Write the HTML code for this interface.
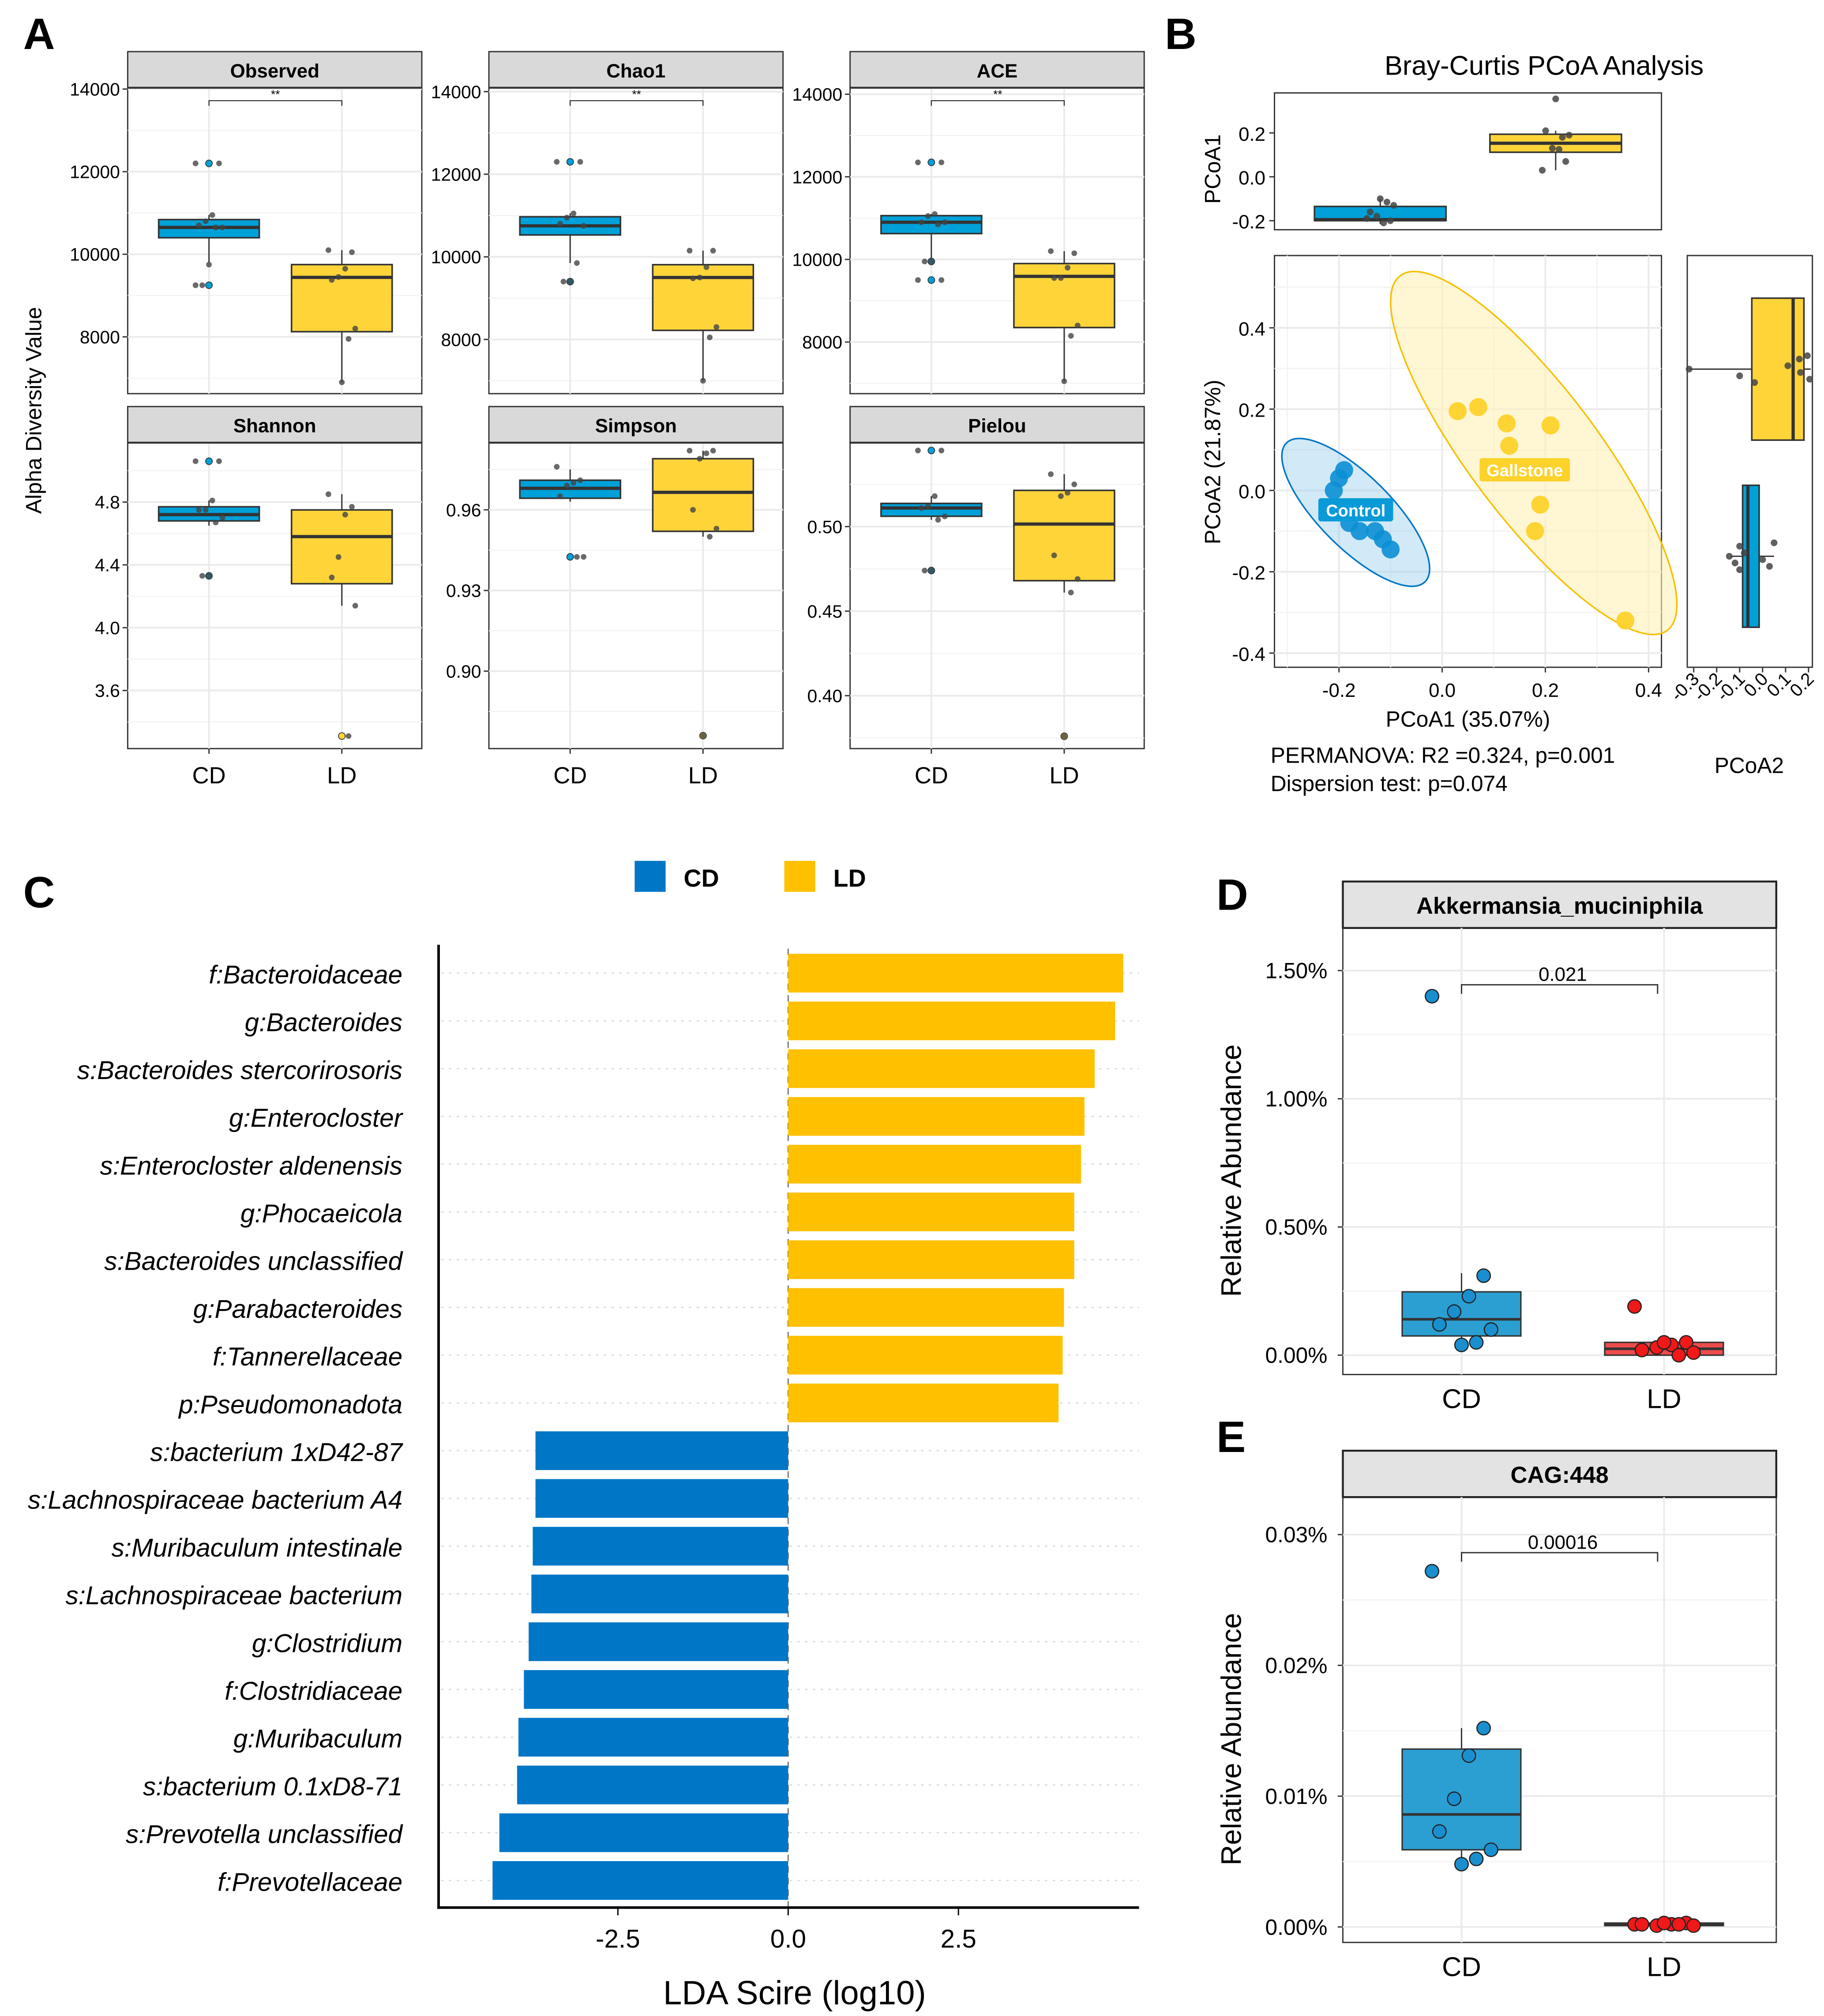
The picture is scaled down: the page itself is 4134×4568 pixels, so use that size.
<!DOCTYPE html>
<html><head><meta charset="utf-8">
<style>
html,body{margin:0;padding:0;background:#fff;overflow:hidden;width:4134px;height:4568px;}
svg{display:block;font-family:"Liberation Sans",sans-serif;}
</style></head>
<body>
<svg id="fig" xmlns="http://www.w3.org/2000/svg" width="4134" height="4568" viewBox="0 0 1414 1562" preserveAspectRatio="none" overflow="hidden">
<rect width="1414" height="1562" fill="#fff"/>
<text x="18" y="38" font-size="34" font-weight="bold">A</text>
<text x="903" y="38" font-size="34" font-weight="bold">B</text>
<text x="18" y="703" font-size="34" font-weight="bold">C</text>
<text x="943" y="705" font-size="34" font-weight="bold">D</text>
<text x="943" y="1125" font-size="34" font-weight="bold">E</text>
<text transform="translate(32,318) rotate(-90)" text-anchor="middle" font-size="17">Alpha Diversity Value</text>
<g id="gA"></g>
<g id="gB"></g>
<g id="gC"></g>
<g id="gD"></g>
<g id="gE"></g>
</svg>
<script>
// ---------- Panel A data ----------
const alphaMetrics = ["Observed","Chao1","ACE","Shannon","Simpson","Pielou"];
const alphaTicks = [[8000,10000,12000,14000],[8000,10000,12000,14000],[8000,10000,12000,14000],[3.6,4.0,4.4,4.8],[0.90,0.93,0.96],[0.40,0.45,0.50]];
const alphaTickLabels = [["8000","10000","12000","14000"],["8000","10000","12000","14000"],["8000","10000","12000","14000"],["3.6","4.0","4.4","4.8"],["0.90","0.93","0.96"],["0.40","0.45","0.50"]];
const alphaBoxCD = [[9800,10400,10650,10840,10950],[9850,10530,10750,10970,11050],[9950,10625,10900,11060,11100],[4.65,4.68,4.72,4.77,4.81],[0.963,0.9643,0.968,0.971,0.975],[0.504,0.5061,0.511,0.5137,0.518]];
const alphaBoxLD = [[6900,8125,9440,9750,10100],[7000,8220,9500,9810,10150],[7050,8350,9590,9900,10200],[4.14,4.28,4.58,4.75,4.85],[0.950,0.952,0.9665,0.979,0.982],[0.461,0.468,0.5015,0.5214,0.531]];
const alphaPtsCD = [[12200,12200,10950,10800,10700,10650,10650,9750,9250,9250],[12300,12300,11050,10950,10800,10750,9850,9400,9400],[12350,12350,11100,11050,10900,10900,10850,9950,9950,9500,9500],[5.06,5.06,4.81,4.75,4.75,4.70,4.67,4.33,4.33],[0.976,0.971,0.970,0.969,0.965,0.9425,0.9425],[0.545,0.545,0.518,0.512,0.511,0.506,0.504,0.474,0.474]];
const alphaPtsLD = [[10100,10050,9650,9450,9380,8200,7950,6900],[10150,10150,9750,9500,9480,8300,8050,7000],[10200,10150,9800,9550,9550,8400,8150,7050],[4.85,4.77,4.72,4.45,4.32,4.14,3.31],[0.982,0.982,0.981,0.979,0.960,0.953,0.950,0.876],[0.531,0.525,0.520,0.518,0.483,0.469,0.461,0.376]];
const alphaOutCD = [[12200,9250],[12300,9400],[12350,9950,9500],[5.06,4.33],[0.9425],[0.545,0.474]];
const alphaOutLD = [[],[],[],[3.31],[0.876],[0.376]];
const alphaSig = ["**","**","**","","",""];
// ---------- Panel B data ----------
const pcoaCtrlX = [-0.19,-0.20,-0.21,-0.18,-0.16,-0.13,-0.115,-0.10];
const pcoaCtrlY = [0.05,0.03,0.0,-0.08,-0.10,-0.10,-0.12,-0.145];
const pcoaGallX = [0.03,0.07,0.125,0.13,0.21,0.19,0.18,0.355];
const pcoaGallY = [0.195,0.205,0.165,0.11,0.16,-0.035,-0.10,-0.32];
const pcoa1BoxCD = [-0.215,-0.20,-0.195,-0.135,-0.10];
const pcoa1BoxLD = [0.03,0.112,0.153,0.194,0.21];
const pcoa2BoxCD = [-0.14,-0.087,-0.064,-0.015,0.05];
const pcoa2BoxLD = [-0.32,-0.047,0.133,0.18,0.21];
const pcoaXTicks = [-0.2,0.0,0.2,0.4];
const pcoaXTickLabels = ["-0.2","0.0","0.2","0.4"];
const pcoaYTicks = [-0.4,-0.2,0.0,0.2,0.4];
const pcoaYTickLabels = ["-0.4","-0.2","0.0","0.2","0.4"];
const pcoa1Ticks = [-0.2,0.0,0.2];
const pcoa1TickLabels = ["-0.2","0.0","0.2"];
const pcoa2Ticks = [-0.3,-0.2,-0.1,0.0,0.1,0.2];
const pcoa2TickLabels = ["-0.3","-0.2","-0.1","0.0","0.1","0.2"];
// ---------- Panel C data ----------
const ldaTaxa = ["f:Bacteroidaceae","g:Bacteroides","s:Bacteroides stercorirosoris","g:Enterocloster","s:Enterocloster aldenensis","g:Phocaeicola","s:Bacteroides unclassified","g:Parabacteroides","f:Tannerellaceae","p:Pseudomonadota","s:bacterium 1xD42-87","s:Lachnospiraceae bacterium A4","s:Muribaculum intestinale","s:Lachnospiraceae bacterium","g:Clostridium","f:Clostridiaceae","g:Muribaculum","s:bacterium 0.1xD8-71","s:Prevotella unclassified","f:Prevotellaceae"];
const ldaScores = [4.92,4.80,4.50,4.35,4.30,4.20,4.20,4.05,4.03,3.97,-3.71,-3.71,-3.75,-3.77,-3.81,-3.88,-3.96,-3.98,-4.24,-4.34];
const ldaTicks = [-2.5,0.0,2.5];
const ldaTickLabels = ["-2.5","0.0","2.5"];
// ---------- Panel D/E data ----------
const akkBoxCD = [0.04,0.075,0.14,0.247,0.32];
const akkBoxLD = [0.0,0.0,0.025,0.05,0.05];
const akkPtsCD = [1.40,0.31,0.23,0.17,0.12,0.10,0.05,0.04];
const akkPtsLD = [0.19,0.05,0.04,0.03,0.02,0.01,0.0,0.05];
const akkTicks = [0,0.5,1.0,1.5];
const akkTickLabels = ["0.00%","0.50%","1.00%","1.50%"];
const cagBoxCD = [0.0048,0.0059,0.0086,0.0136,0.0152];
const cagBoxLD = [0.0,0.0001,0.0002,0.0003,0.0004];
const cagPtsCD = [0.0272,0.0152,0.0131,0.0098,0.0073,0.0059,0.0052,0.0048];
const cagPtsLD = [0.0002,0.0003,0.0002,0.0001,0.0002,0.0001,0.0002,0.0003];
const cagTicks = [0,0.01,0.02,0.03];
const cagTickLabels = ["0.00%","0.01%","0.02%","0.03%"];

const NS="http://www.w3.org/2000/svg";
function el(tag,attrs,parent,txt){const e=document.createElementNS(NS,tag);for(const k in attrs)e.setAttribute(k,attrs[k]);if(txt!==undefined)e.textContent=txt;parent.appendChild(e);return e;}
function lin(d0,d1,r0,r1){return v=>r0+(v-d0)*(r1-r0)/(d1-d0);}
function jit(i){return ((i*7)%9-4)*2.6;}

// ---------- Panel A ----------
(function(){
  const g=document.getElementById('gA');
  const lefts=[99,379,659], w=228;
  const scales=[[8000,261,14000,69],[8000,263,14000,71],[8000,265,14000,73],[3.6,535,4.8,389],[0.90,520,0.96,395],[0.40,539,0.50,408]];
  alphaMetrics.forEach((m,k)=>{
    const L=lefts[k%3], row=Math.floor(k/3);
    const st=row?315:40, top=st+28, bot=row?580:305;
    const s=scales[k], y=lin(s[0],s[2],s[1],s[3]);
    const cx=[L+63,L+166];
    const strip=el('rect',{x:L,y:st,width:w,height:28,fill:'#d9d9d9',stroke:'#333','stroke-width':1},g);
    
    
    const stt=el('text',{x:L+w/2,y:st+20,'text-anchor':'middle','font-size':15,'font-weight':'bold'},g,m);
    
    
    el('rect',{x:L,y:top,width:w,height:bot-top,fill:'#fff',stroke:'#333','stroke-width':1},g);
    const tk=alphaTicks[k];
    for(let i=0;i<tk.length;i++){
      el('line',{x1:L,x2:L+w,y1:y(tk[i]),y2:y(tk[i]),stroke:'#ebebeb','stroke-width':1.4},g);
      if(i<tk.length-1){const mid=(tk[i]+tk[i+1])/2;el('line',{x1:L,x2:L+w,y1:y(mid),y2:y(mid),stroke:'#f3f3f3','stroke-width':0.8},g);}
    }
    const mlo=tk[0]-(tk[1]-tk[0])/2; if(y(mlo)<bot) el('line',{x1:L,x2:L+w,y1:y(mlo),y2:y(mlo),stroke:'#f3f3f3','stroke-width':0.8},g);
    const mhi=tk[tk.length-1]+(tk[1]-tk[0])/2; if(y(mhi)>top) el('line',{x1:L,x2:L+w,y1:y(mhi),y2:y(mhi),stroke:'#f3f3f3','stroke-width':0.8},g);
    cx.forEach(c=>el('line',{x1:c,x2:c,y1:top,y2:bot,stroke:'#ebebeb','stroke-width':1.4},g));
    el('line',{x1:L,x2:L+w,y1:top,y2:top,stroke:'#333','stroke-width':1.5},g);
    tk.forEach((t,i)=>{
      el('line',{x1:L-4,x2:L,y1:y(t),y2:y(t),stroke:'#333'},g);
      const tt=el('text',{x:L-6,y:y(t)+5,'text-anchor':'end','font-size':14},g,alphaTickLabels[k][i]);
      
      
    });
    if(row===1){['CD','LD'].forEach((c,i)=>{
      el('line',{x1:cx[i],x2:cx[i],y1:bot,y2:bot+4,stroke:'#333'},g);
      const xt=el('text',{x:cx[i],y:bot+27,'text-anchor':'middle','font-size':18},g,c);
      
      
    });}
    [[alphaBoxCD[k],'#00a0d8',alphaPtsCD[k],alphaOutCD[k],'cd'],[alphaBoxLD[k],'#fed439',alphaPtsLD[k],alphaOutLD[k],'ld']].forEach((b,i)=>{
      const bx=b[0],c=cx[i];
      el('line',{x1:c,x2:c,y1:y(bx[0]),y2:y(bx[4]),stroke:'#333'},g);
      const r=el('rect',{x:c-39,y:y(bx[3]),width:78,height:y(bx[1])-y(bx[3]),fill:b[1],stroke:'#333','stroke-width':1.2},g);
      
      
      el('line',{x1:c-39,x2:c+39,y1:y(bx[2]),y2:y(bx[2]),stroke:'#333','stroke-width':2.5},g);
      b[3].forEach(v=>{const o=el('circle',{cx:c,cy:y(v),r:2.6,fill:b[1],stroke:'#333','stroke-width':0.6},g);
        
        });
      b[2].forEach((v,j)=>{const p=el('circle',{cx:c+jit(j),cy:y(v),r:2.2,fill:'#444',opacity:0.8},g);
        
        });
    });
    if(alphaSig[k]){
      el('path',{d:`M${cx[0]},${top+14} V${top+10} H${cx[1]} V${top+14}`,fill:'none',stroke:'#333','stroke-width':0.8},g);
      const sg=el('text',{x:(cx[0]+cx[1])/2,y:top+8,'text-anchor':'middle','font-size':9},g,alphaSig[k]);
      
      
    }
  });
})();

// ---------- Panel B ----------
(function(){
  const g=document.getElementById('gB');
  const X=lin(0,0.4,1118,1278), Y=lin(0,0.4,380,254);
  const Yt=lin(0,0.2,137,103), Xr=lin(-0.3,0.2,1313,1402);
  const t=el('text',{x:1197,y:58,'text-anchor':'middle','font-size':21},g,'Bray-Curtis PCoA Analysis');
  
  
  el('rect',{x:988,y:72,width:300,height:106,fill:'#fff',stroke:'#333'},g);
  pcoa1Ticks.forEach((v,i)=>{el('line',{x1:984,x2:988,y1:Yt(v),y2:Yt(v),stroke:'#333'},g);
    const tt=el('text',{x:981,y:Yt(v)+6,'text-anchor':'end','font-size':15},g,pcoa1TickLabels[i]);
    
    });
  const ty=el('text',{transform:'translate(946,131) rotate(-90)','text-anchor':'middle','font-size':17},g,'PCoA1');
  
  
  [[pcoa1BoxCD,1070,'#00a0d8','cd'],[pcoa1BoxLD,1206,'#fed439','ld']].forEach(b=>{
    const bx=b[0],c=b[1];
    el('line',{x1:c,x2:c,y1:Yt(bx[0]),y2:Yt(bx[4]),stroke:'#333'},g);
    const r=el('rect',{x:c-51,y:Yt(bx[3]),width:102,height:Yt(bx[1])-Yt(bx[3]),fill:b[2],stroke:'#333','stroke-width':1.2},g);
    
    
    el('line',{x1:c-51,x2:c+51,y1:Yt(bx[2]),y2:Yt(bx[2]),stroke:'#333','stroke-width':2.5},g);
  });
  pcoaCtrlX.forEach((v,i)=>{const p=el('circle',{cx:1070+jit(i),cy:Yt(v),r:2.6,fill:'#444',opacity:0.85},g);
    
    });
  pcoaGallX.forEach((v,i)=>{const p=el('circle',{cx:1206+jit(i),cy:Yt(v),r:2.6,fill:'#444',opacity:0.85},g);
    
    });
  el('rect',{x:988,y:198,width:300,height:319,fill:'#fff',stroke:'#333'},g);
  [-0.3,-0.1,0.1,0.3].forEach(v=>el('line',{x1:X(v),x2:X(v),y1:198,y2:517,stroke:'#f3f3f3'},g));
  [-0.3,-0.1,0.1,0.3,0.5].forEach(v=>el('line',{x1:988,x2:1288,y1:Y(v),y2:Y(v),stroke:'#f3f3f3'},g));
  pcoaXTicks.forEach((v,i)=>{el('line',{x1:X(v),x2:X(v),y1:198,y2:517,stroke:'#ebebeb','stroke-width':1.4},g);
    el('line',{x1:X(v),x2:X(v),y1:517,y2:521,stroke:'#333'},g);
    const tt=el('text',{x:X(v),y:540,'text-anchor':'middle','font-size':15},g,pcoaXTickLabels[i]);
    
    });
  pcoaYTicks.forEach((v,i)=>{el('line',{x1:988,x2:1288,y1:Y(v),y2:Y(v),stroke:'#ebebeb','stroke-width':1.4},g);
    el('line',{x1:984,x2:988,y1:Y(v),y2:Y(v),stroke:'#333'},g);
    const tt=el('text',{x:981,y:Y(v)+6,'text-anchor':'end','font-size':15},g,pcoaYTickLabels[i]);
    
    });
  const e1=el('ellipse',{cx:1051,cy:397,rx:76,ry:28,transform:'rotate(45 1051 397)',fill:'#9ccfee',opacity:0.45,stroke:'none'},g);
  
  
  el('ellipse',{cx:1051,cy:397,rx:76,ry:28,transform:'rotate(45 1051 397)',fill:'none',stroke:'#0076c6','stroke-width':1.2},g);
  const e2=el('ellipse',{cx:1189,cy:351,rx:172,ry:50,transform:'rotate(53 1189 351)',fill:'#fff0b8',opacity:0.6,stroke:'none'},g);
  
  
  el('ellipse',{cx:1189,cy:351,rx:172,ry:50,transform:'rotate(53 1189 351)',fill:'none',stroke:'#f5c000','stroke-width':1.2},g);
  pcoaCtrlX.forEach((v,i)=>{const p=el('circle',{cx:X(v),cy:Y(pcoaCtrlY[i]),r:7,fill:'#0a8fd4',opacity:0.9},g);
    
    });
  pcoaGallX.forEach((v,i)=>{const p=el('circle',{cx:X(v),cy:Y(pcoaGallY[i]),r:7,fill:'#fdd22a',opacity:0.95},g);
    
    });
  el('rect',{x:1022,y:386,width:58,height:18,rx:2,fill:'#0a9ad8'},g);
  const lc=el('text',{x:1051,y:400,'text-anchor':'middle','font-size':13,'font-weight':'bold',fill:'#fff'},g,'Control');
  
  
  el('rect',{x:1147,y:355,width:70,height:18,rx:2,fill:'#fdd22a'},g);
  const lg=el('text',{x:1182,y:369,'text-anchor':'middle','font-size':13,'font-weight':'bold',fill:'#fff'},g,'Gallstone');
  
  
  const xt=el('text',{x:1138,y:563,'text-anchor':'middle','font-size':17},g,'PCoA1 (35.07%)');
  
  
  const yt=el('text',{transform:'translate(946,358) rotate(-90)','text-anchor':'middle','font-size':17},g,'PCoA2 (21.87%)');
  
  
  const s1=el('text',{x:985,y:591,'font-size':17},g,'PERMANOVA: R2 =0.324, p=0.001');
  
  
  const s2=el('text',{x:985,y:613,'font-size':17},g,'Dispersion test: p=0.074');
  
  
  el('rect',{x:1308,y:198,width:97,height:319,fill:'#fff',stroke:'#333'},g);
  pcoa2Ticks.forEach((v,i)=>{el('line',{x1:Xr(v),x2:Xr(v),y1:517,y2:521,stroke:'#333'},g);
    const tt=el('text',{transform:`translate(${Xr(v)+5},527) rotate(-45)`,'text-anchor':'end','font-size':14},g,pcoa2TickLabels[i]);
    
    });
  const rt=el('text',{x:1356,y:599,'text-anchor':'middle','font-size':17},g,'PCoA2');
  
  
  [[pcoa2BoxLD,286,'#fed439','ld',pcoaGallY],[pcoa2BoxCD,431,'#00a0d8','cd',pcoaCtrlY]].forEach(b=>{
    const bx=b[0],c=b[1];
    el('line',{x1:Xr(bx[0]),x2:Xr(bx[4]),y1:c,y2:c,stroke:'#333'},g);
    const r=el('rect',{x:Xr(bx[1]),y:c-55,width:Xr(bx[3])-Xr(bx[1]),height:110,fill:b[2],stroke:'#333','stroke-width':1.2},g);
    
    
    el('line',{x1:Xr(bx[2]),x2:Xr(bx[2]),y1:c-55,y2:c+55,stroke:'#333','stroke-width':2.5},g);
    b[4].forEach((v,i)=>{const p=el('circle',{cx:Xr(v),cy:c+jit(i),r:2.6,fill:'#444',opacity:0.85},g);
      
      });
  });
})();

// ---------- Panel C ----------
(function(){
  const g=document.getElementById('gC');
  const X=lin(0,2.5,611,743);
  const rowY=i=>754+i*37;
  el('rect',{x:492,y:667,width:24,height:24,fill:'#0076c6'},g);
  const l1=el('text',{x:530,y:687,'font-size':19,'font-weight':'bold'},g,'CD');
  
  
  el('rect',{x:608,y:667,width:24,height:24,fill:'#ffc000'},g);
  const l2=el('text',{x:646,y:687,'font-size':19,'font-weight':'bold'},g,'LD');
  
  
  ldaTaxa.forEach((t,i)=>{
    el('line',{x1:342,x2:883,y1:rowY(i),y2:rowY(i),stroke:'#dcdcdc','stroke-dasharray':'2,4'},g);
  });
  el('line',{x1:611,x2:611,y1:735,y2:1478,stroke:'#777','stroke-dasharray':'5,4'},g);
  ldaScores.forEach((v,i)=>{
    const x0=X(Math.min(0,v)), x1=X(Math.max(0,v));
    const r=el('rect',{x:x0,y:rowY(i)-15,width:x1-x0,height:30,fill:v>0?'#ffc000':'#0076c6'},g);
    
    
    const lt=el('text',{x:312,y:rowY(i)+8,'text-anchor':'end','font-size':20,'font-style':'italic'},g,ldaTaxa[i]);
    
    
  });
  el('line',{x1:340,x2:340,y1:732,y2:1479,stroke:'#000','stroke-width':2},g);
  el('line',{x1:339,x2:883,y1:1478,y2:1478,stroke:'#000','stroke-width':2},g);
  ldaTicks.forEach((v,i)=>{el('line',{x1:X(v),x2:X(v),y1:1478,y2:1484,stroke:'#000'},g);
    const tt=el('text',{x:X(v),y:1509,'text-anchor':'middle','font-size':20},g,ldaTickLabels[i]);
    
    });
  const xt=el('text',{x:616,y:1553,'text-anchor':'middle','font-size':26},g,'LDA Scire (log10)');
  
  
})();

// ---------- Panels D & E ----------
function relPanel(gid,title,st,bot,scaleV,scaleP,ticks,tickLabels,boxCD,boxLD,ptsCD,ptsLD,pval,brY){
  const g=document.getElementById(gid);
  const L=1041,R=1377,top=st+36;
  const y=lin(0,scaleV,scaleP[0],scaleP[1]);
  const cx=[1133,1290];
  const s=el('rect',{x:L,y:st,width:R-L,height:36,fill:'#e3e3e3',stroke:'#222','stroke-width':1.5},g);
  
  
  const stt=el('text',{x:(L+R)/2,y:st+25,'text-anchor':'middle','font-size':18,'font-weight':'bold'},g,title);
  
  
  el('rect',{x:L,y:top,width:R-L,height:bot-top,fill:'#fff',stroke:'#333'},g);
  ticks.forEach((v,i)=>{
    el('line',{x1:L,x2:R,y1:y(v),y2:y(v),stroke:'#ebebeb','stroke-width':1.4},g);
    if(i<ticks.length-1){const m=(v+ticks[i+1])/2;el('line',{x1:L,x2:R,y1:y(m),y2:y(m),stroke:'#f4f4f4'},g);}
    el('line',{x1:L-4,x2:L,y1:y(v),y2:y(v),stroke:'#333'},g);
    const tt=el('text',{x:L-12,y:y(v)+6,'text-anchor':'end','font-size':17},g,tickLabels[i]);
    
    
  });
  el('line',{x1:L,x2:R,y1:top,y2:top,stroke:'#222','stroke-width':1.5},g);
  cx.forEach((c,i)=>{el('line',{x1:c,x2:c,y1:top,y2:bot,stroke:'#ebebeb','stroke-width':1.4},g);
    const xt=el('text',{x:c,y:bot+26,'text-anchor':'middle','font-size':21},g,i?'LD':'CD');
    
    });
  [[boxCD,'#2b9fd2',ptsCD,'#1a8fcf','cd'],[boxLD,'#ee4c4c',ptsLD,'#f01818','ld']].forEach((b,i)=>{
    const bx=b[0],c=cx[i];
    el('line',{x1:c,x2:c,y1:y(bx[0]),y2:y(bx[4]),stroke:'#333'},g);
    const r=el('rect',{x:c-46,y:y(bx[3]),width:92,height:Math.max(1,y(bx[1])-y(bx[3])),fill:b[1],stroke:'#333','stroke-width':1.1},g);
    
    
    el('line',{x1:c-46,x2:c+46,y1:y(bx[2]),y2:y(bx[2]),stroke:'#333','stroke-width':2},g);
    b[2].forEach((v,j)=>{const p=el('circle',{cx:c+jit(j)*2.2,cy:y(v),r:5.2,fill:b[3],stroke:'#222','stroke-width':0.9},g);
      
      });
  });
  el('path',{d:`M${cx[0]},${brY+7} V${brY} H${cx[1]-5} V${brY+7}`,fill:'none',stroke:'#333'},g);
  const pv=el('text',{x:(cx[0]+cx[1])/2,y:brY-3,'text-anchor':'middle','font-size':15},g,pval);
  
  
  const yt=el('text',{transform:`translate(962,${(top+bot)/2+15}) rotate(-90)`,'text-anchor':'middle','font-size':22},g,'Relative Abundance');
  
  
}
relPanel('gD','Akkermansia_muciniphila',683,1065,1.5,[1050,752],akkTicks,akkTickLabels,akkBoxCD,akkBoxLD,akkPtsCD,akkPtsLD,'0.021',763);
relPanel('gE','CAG:448',1124,1505,0.03,[1493,1189],cagTicks,cagTickLabels,cagBoxCD,cagBoxLD,cagPtsCD,cagPtsLD,'0.00016',1203);
</script>
</body></html>
